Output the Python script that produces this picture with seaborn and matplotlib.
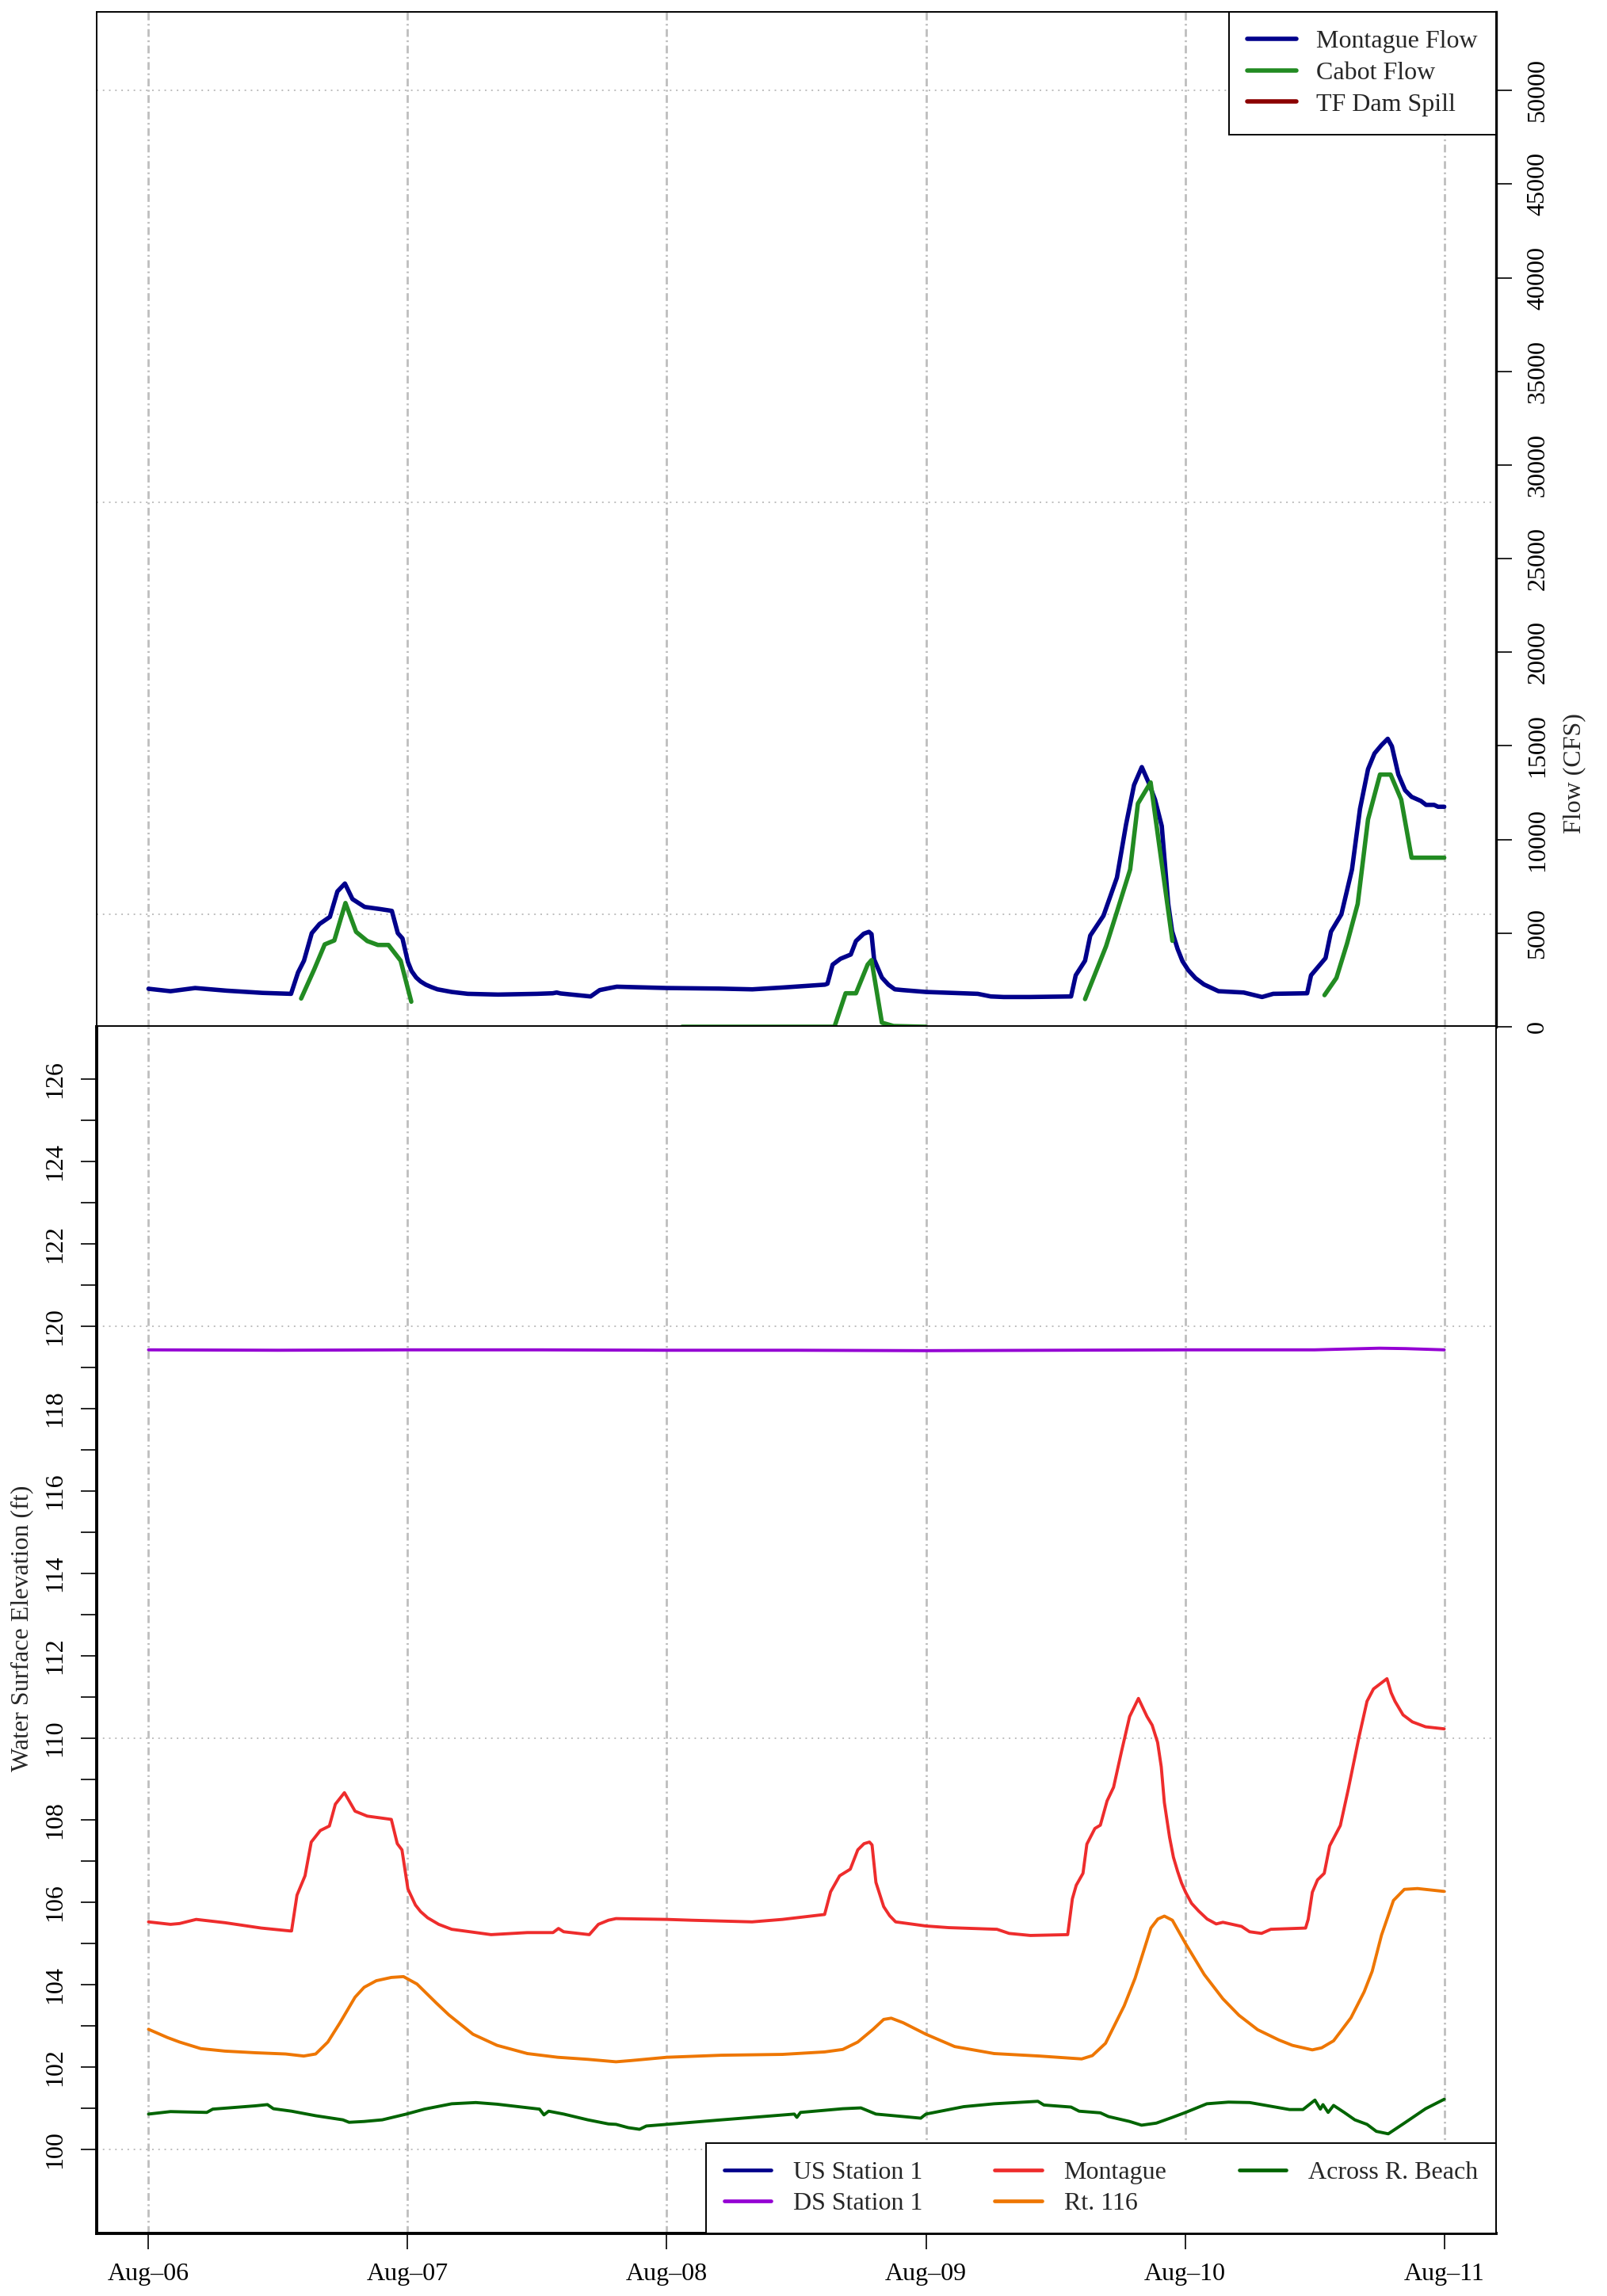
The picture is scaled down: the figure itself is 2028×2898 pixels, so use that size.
import numpy as np
import pandas as pd
import matplotlib
matplotlib.use("Agg")
import matplotlib.pyplot as plt
import seaborn as sns
from matplotlib.lines import Line2D

# ---------------- data (time in days since Aug-06 00:00) ----------------
day_ticks = [0, 1, 2, 3, 4, 5]
day_labels = ["Aug\u201306", "Aug\u201307", "Aug\u201308", "Aug\u201309", "Aug\u201310", "Aug\u201311"]

flow_ticks = [0, 5000, 10000, 15000, 20000, 25000, 30000, 35000, 40000, 45000, 50000]
flow_grid = [6000, 28000, 50000]
wse_ticks = list(range(100, 127))
wse_grid = [100, 110, 120]

montague_flow_t = [0.000, 0.085, 0.180, 0.300, 0.440, 0.550, 0.577, 0.600, 0.630, 0.660, 0.700, 0.729,
                   0.758, 0.787, 0.834, 0.892, 0.939, 0.962, 0.980, 1.001, 1.015, 1.033, 1.050, 1.070,
                   1.090, 1.115, 1.170, 1.232, 1.349, 1.500, 1.560, 1.575, 1.590, 1.706, 1.741, 1.780,
                   1.807, 2.000, 2.200, 2.330, 2.450, 2.610, 2.620, 2.640, 2.670, 2.710, 2.730, 2.760,
                   2.780, 2.790, 2.800, 2.830, 2.855, 2.880, 2.910, 3.000, 3.200, 3.250, 3.300, 3.400,
                   3.560, 3.578, 3.614, 3.634, 3.685, 3.737, 3.772, 3.803, 3.833, 3.859, 3.884, 3.910,
                   3.935, 3.950, 3.971, 3.990, 4.012, 4.040, 4.073, 4.129, 4.226, 4.297, 4.340, 4.471,
                   4.486, 4.542, 4.563, 4.603, 4.644, 4.675, 4.706, 4.731, 4.757, 4.782, 4.798, 4.823,
                   4.849, 4.874, 4.910, 4.930, 4.961, 4.976, 5.000]
montague_flow_v = [2030, 1900, 2070, 1930, 1810, 1760, 2900, 3530, 5000, 5490, 5870, 7230,
                   7650, 6820, 6400, 6290, 6190, 5000, 4720, 3460, 2980, 2630, 2420, 2250,
                   2130, 2000, 1860, 1760, 1720, 1760, 1790, 1830, 1780, 1620, 1960, 2070,
                   2140, 2070, 2040, 2000, 2100, 2250, 2300, 3320, 3630, 3860, 4580, 4970,
                   5070, 4950, 3600, 2630, 2250, 2000, 1960, 1860, 1760, 1620, 1590, 1590,
                   1620, 2750, 3530, 4870, 5930, 7970, 10790, 12910, 13870, 13050, 12130, 10720,
                   6560, 5100, 4160, 3500, 3030, 2600, 2260, 1900, 1830, 1590, 1760, 1790,
                   2750, 3670, 5080, 6000, 8400, 11640, 13760, 14600, 15030, 15380, 14980, 13470,
                   12630, 12280, 12060, 11850, 11850, 11750, 11750]

# Cabot flow: NaN marks gaps in the record
cabot_flow_t = [0.589, 0.639, 0.680, 0.717, 0.760, 0.801, 0.844, 0.885, 0.926, 0.973, 1.014, np.nan,
                2.059, 2.647, 2.690, 2.730, 2.775, 2.790, 2.830, 2.875, 3.000, np.nan,
                3.614, 3.695, 3.737, 3.788, 3.818, 3.867, 3.951, np.nan,
                4.538, 4.584, 4.625, 4.666, 4.706, 4.752, 4.793, 4.834, 4.874, 5.000]
cabot_flow_v = [1510, 3050, 4400, 4610, 6610, 5070, 4580, 4370, 4370, 3530, 1340, np.nan,
                0, 0, 1790, 1790, 3320, 3560, 220, 40, 0, np.nan,
                1480, 4300, 6140, 8400, 11920, 13050, 4590, np.nan,
                1690, 2610, 4450, 6560, 11080, 13470, 13470, 12130, 9030, 9030]

tf_spill_t = []
tf_spill_v = []

us_station_t = []
us_station_v = []

ds_station_t = [0.0, 0.5, 1.0, 1.5, 2.0, 2.5, 3.0, 3.5, 4.0, 4.5, 4.75, 4.85, 5.0]
ds_station_v = [119.43, 119.42, 119.43, 119.43, 119.42, 119.42, 119.41, 119.42, 119.43, 119.43, 119.47, 119.46, 119.43]

montague_wse_t = [0.000, 0.085, 0.120, 0.184, 0.295, 0.435, 0.546, 0.552, 0.573, 0.604, 0.628, 0.663,
                  0.698, 0.721, 0.756, 0.797, 0.844, 0.937, 0.960, 0.978, 1.001, 1.030, 1.050, 1.077,
                  1.120, 1.170, 1.322, 1.462, 1.561, 1.582, 1.602, 1.701, 1.736, 1.775, 1.804, 2.000,
                  2.096, 2.329, 2.446, 2.609, 2.632, 2.667, 2.708, 2.737, 2.761, 2.782, 2.792, 2.807,
                  2.837, 2.860, 2.883, 3.000, 3.088, 3.274, 3.321, 3.403, 3.547, 3.565, 3.580, 3.606,
                  3.621, 3.652, 3.673, 3.699, 3.724, 3.755, 3.786, 3.820, 3.853, 3.873, 3.894, 3.908,
                  3.920, 3.940, 3.955, 3.971, 3.986, 4.002, 4.025, 4.053, 4.085, 4.120, 4.146, 4.218,
                  4.249, 4.295, 4.331, 4.465, 4.475, 4.491, 4.511, 4.537, 4.558, 4.599, 4.630, 4.671,
                  4.702, 4.727, 4.779, 4.795, 4.810, 4.841, 4.877, 4.928, 5.000]
montague_wse_v = [105.53, 105.47, 105.49, 105.59, 105.51, 105.38, 105.31, 105.31, 106.18, 106.65, 107.47, 107.75,
                  107.86, 108.39, 108.67, 108.22, 108.10, 108.02, 107.43, 107.28, 106.33, 105.94, 105.78, 105.63,
                  105.47, 105.35, 105.22, 105.27, 105.27, 105.37, 105.29, 105.22, 105.47, 105.57, 105.61, 105.59,
                  105.57, 105.53, 105.59, 105.71, 106.26, 106.65, 106.81, 107.28, 107.43, 107.47, 107.40, 106.49,
                  105.90, 105.68, 105.53, 105.43, 105.39, 105.35, 105.25, 105.20, 105.22, 106.09, 106.42, 106.71,
                  107.42, 107.80, 107.88, 108.47, 108.80, 109.68, 110.52, 110.96, 110.52, 110.31, 109.89, 109.30,
                  108.43, 107.59, 107.10, 106.76, 106.48, 106.25, 105.98, 105.79, 105.60, 105.48, 105.52, 105.42,
                  105.29, 105.25, 105.35, 105.38, 105.59, 106.25, 106.55, 106.71, 107.38, 107.87, 108.76, 110.02,
                  110.89, 111.19, 111.44, 111.10, 110.89, 110.56, 110.39, 110.27, 110.22]

rt116_t = [0.000, 0.073, 0.120, 0.202, 0.295, 0.412, 0.529, 0.599, 0.645, 0.692, 0.739, 0.797,
           0.832, 0.879, 0.937, 0.984, 1.036, 1.112, 1.159, 1.252, 1.345, 1.462, 1.579, 1.695,
           1.804, 1.862, 2.000, 2.212, 2.446, 2.609, 2.679, 2.737, 2.796, 2.837, 2.866, 2.912,
           3.000, 3.111, 3.263, 3.438, 3.601, 3.642, 3.693, 3.765, 3.807, 3.868, 3.895, 3.920, 3.951,
           4.002, 4.074, 4.146, 4.208, 4.280, 4.362, 4.414, 4.491, 4.527, 4.573, 4.640, 4.691,
           4.722, 4.758, 4.804, 4.846, 4.897, 5.000]
rt116_v = [102.92, 102.72, 102.61, 102.45, 102.39, 102.35, 102.32, 102.27, 102.32, 102.61, 103.08, 103.70,
           103.94, 104.10, 104.18, 104.20, 104.02, 103.55, 103.27, 102.80, 102.53, 102.33, 102.24, 102.19,
           102.13, 102.16, 102.24, 102.29, 102.31, 102.37, 102.43, 102.61, 102.92, 103.16, 103.19, 103.08,
           102.80, 102.50, 102.33, 102.27, 102.20, 102.28, 102.58, 103.49, 104.16, 105.38, 105.60, 105.67, 105.57,
           105.00, 104.25, 103.66, 103.26, 102.91, 102.66, 102.53, 102.42, 102.47, 102.64, 103.20, 103.83,
           104.33, 105.21, 106.05, 106.32, 106.34, 106.27]

beach_t = [0.000, 0.085, 0.225, 0.248, 0.412, 0.459, 0.482, 0.552, 0.645, 0.750, 0.774, 0.832,
           0.902, 0.995, 1.065, 1.170, 1.263, 1.345, 1.509, 1.526, 1.544, 1.602, 1.695, 1.775,
           1.804, 1.851, 1.895, 1.921, 2.000, 2.212, 2.492, 2.502, 2.516, 2.679, 2.749, 2.807,
           2.912, 2.980, 3.000, 3.146, 3.263, 3.432, 3.455, 3.560, 3.591, 3.673, 3.704, 3.786,
           3.832, 3.889, 3.951, 4.002, 4.084, 4.167, 4.249, 4.403, 4.455, 4.501, 4.522, 4.532,
           4.552, 4.573, 4.614, 4.655, 4.702, 4.738, 4.784, 4.846, 4.928, 5.000]
beach_v = [100.86, 100.92, 100.90, 100.98, 101.06, 101.09, 100.99, 100.93, 100.82, 100.72, 100.66, 100.68,
           100.72, 100.86, 100.98, 101.11, 101.14, 101.10, 100.98, 100.84, 100.93, 100.86, 100.72, 100.62,
           100.61, 100.53, 100.49, 100.57, 100.61, 100.72, 100.86, 100.78, 100.90, 100.99, 101.01, 100.86,
           100.80, 100.76, 100.86, 101.04, 101.11, 101.17, 101.08, 101.03, 100.93, 100.89, 100.80, 100.68,
           100.59, 100.64, 100.78, 100.90, 101.11, 101.15, 101.14, 100.97, 100.97, 101.20, 100.98, 101.09,
           100.90, 101.07, 100.90, 100.72, 100.61, 100.44, 100.38, 100.64, 100.99, 101.22]

# ---------------- styling ----------------
sns.set_theme(style="white")
plt.rcParams['font.family'] = ['Liberation Serif', 'DejaVu Serif']
plt.rcParams['axes.edgecolor'] = 'black'
plt.rcParams['xtick.color'] = 'black'
plt.rcParams['ytick.color'] = 'black'

FS = 23
C_NAVY = "#00008B"
C_FOREST = "#228B22"
C_DARKRED = "#8B0000"
C_VIOLET = "#9400D3"
C_RED = "#EE2C2C"
C_ORANGE = "#EE7600"
C_DKGREEN = "#006400"
GRID_C = "#BEBEBE"
LW_TOP = 4.0
LW_BOT = 2.8

W, H = 2028, 2898
fig = plt.figure(figsize=(W / 100, H / 100), dpi=100)
fig.patch.set_facecolor("white")


def rect(l, t, r, b):
    return [l / W, 1 - b / H, (r - l) / W, (b - t) / H]


ax1 = fig.add_axes(rect(122, 15, 1888, 1296))
ax2 = fig.add_axes(rect(122, 1296, 1888, 2819))

for ax in (ax1, ax2):
    ax.set_xlim(-0.2, 5.2)
    ax.set_facecolor("white")
    for d in day_ticks:
        ax.axvline(d, color=GRID_C, lw=2.0, linestyle=(0, (3.5, 1.6, 0.8, 1.6)), zorder=0)

ax1.set_ylim(0, 54200)
ax2.set_ylim(97.96, 127.28)

for g in flow_grid:
    ax1.axhline(g, color=GRID_C, lw=1.4, linestyle=(0, (1, 3)), zorder=0)
for g in wse_grid:
    ax2.axhline(g, color=GRID_C, lw=1.4, linestyle=(0, (1, 3)), zorder=0)

# ---------------- top panel: flows ----------------
mf = pd.DataFrame({"t": montague_flow_t, "v": montague_flow_v})
sns.lineplot(data=mf, x="t", y="v", ax=ax1, color=C_NAVY, lw=LW_TOP, estimator=None, sort=False,
             legend=False, zorder=3)

cf = pd.DataFrame({"t": cabot_flow_t, "v": cabot_flow_v})
cf["seg"] = cf["v"].isna().cumsum()
cf = cf.dropna()
sns.lineplot(data=cf, x="t", y="v", units="seg", ax=ax1, color=C_FOREST, lw=LW_TOP, estimator=None,
             sort=False, legend=False, zorder=3)

if len(tf_spill_t):
    sns.lineplot(x=tf_spill_t, y=tf_spill_v, ax=ax1, color=C_DARKRED, lw=LW_TOP, legend=False)

# ---------------- bottom panel: WSE ----------------
wse_series = [
    ("US Station 1", us_station_t, us_station_v, C_NAVY),
    ("DS Station 1", ds_station_t, ds_station_v, C_VIOLET),
    ("Montague", montague_wse_t, montague_wse_v, C_RED),
    ("Rt. 116", rt116_t, rt116_v, C_ORANGE),
    ("Across R. Beach", beach_t, beach_v, C_DKGREEN),
]
for name, t, v, c in wse_series:
    if len(t):
        df = pd.DataFrame({"t": t, "v": v})
        sns.lineplot(data=df, x="t", y="v", ax=ax2, color=c, lw=LW_BOT, estimator=None, sort=False,
                     legend=False, zorder=3)

# ---------------- axes / ticks ----------------
ax1.set_xlabel("")
ax1.set_ylabel("")
ax2.set_xlabel("")
ax2.set_ylabel("")

ax1.set_xticks([])
ax1.yaxis.tick_right()
ax1.set_yticks(flow_ticks)
ax1.set_yticklabels([str(v) for v in flow_ticks])
ax1.tick_params(axis="y", which="both", direction="out", length=14.5, width=1.2, pad=13,
                labelsize=FS, right=True, left=False, labelright=True, labelleft=False)
for lab in ax1.get_yticklabels():
    lab.set_rotation(90)
    lab.set_va("center")

ax2.set_xticks(day_ticks)
ax2.set_xticklabels(day_labels)
ax2.set_yticks(wse_ticks)
ax2.set_yticklabels([str(v) if v % 2 == 0 else "" for v in wse_ticks])
ax2.tick_params(axis="x", direction="out", length=14.5, width=1.2, pad=12, labelsize=FS, bottom=True)
ax2.tick_params(axis="y", direction="out", length=14.5, width=1.2, pad=13, labelsize=FS, left=True)
for lab in ax2.get_yticklabels():
    lab.set_rotation(90)
    lab.set_va("center")

# spines
for ax in (ax1, ax2):
    for s in ax.spines.values():
        s.set_color("black")
        s.set_visible(True)
ax1.spines["top"].set_linewidth(1.4)
ax1.spines["left"].set_linewidth(1.4)
ax1.spines["right"].set_linewidth(2.4)
ax1.spines["bottom"].set_linewidth(2.8)
ax1.spines["bottom"].set_zorder(5)
ax2.spines["top"].set_visible(False)
ax2.spines["left"].set_linewidth(2.8)
ax2.spines["bottom"].set_linewidth(2.8)
ax2.spines["right"].set_linewidth(1.4)

# labels
fig.text(1987 / W, 1 - 976 / H, "Flow (CFS)", rotation=90, ha="center", va="center", fontsize=FS)
fig.text(28 / W, 1 - 2055 / H, "Water Surface Elevation (ft)", rotation=90, ha="center", va="center",
         fontsize=FS)

# ---------------- legends ----------------
h1 = [Line2D([], [], color=C_NAVY, lw=LW_TOP, solid_capstyle="round"),
      Line2D([], [], color=C_FOREST, lw=LW_TOP, solid_capstyle="round"),
      Line2D([], [], color=C_DARKRED, lw=LW_TOP, solid_capstyle="round")]
leg1 = ax1.legend(h1, ["Montague Flow", "Cabot Flow", "TF Dam Spill"], loc="upper right",
                  bbox_to_anchor=(1, 1), borderaxespad=0, frameon=True, fancybox=False,
                  edgecolor="black", framealpha=1, fontsize=FS, handlelength=1.95,
                  handletextpad=0.8, labelspacing=0.32, borderpad=0.72)
leg1.get_frame().set_linewidth(1.4)
leg1.set_zorder(10)

h2 = [Line2D([], [], color=c, lw=LW_BOT + 0.6, solid_capstyle="round") for _, _, _, c in wse_series]
leg2 = ax2.legend(h2, [n for n, _, _, _ in wse_series], loc="lower right", bbox_to_anchor=(1, 0),
                  borderaxespad=0, ncol=3, frameon=True, fancybox=False, edgecolor="black",
                  framealpha=1, fontsize=FS, handlelength=1.85, handletextpad=0.88,
                  columnspacing=2.85, labelspacing=0.3, borderpad=0.72)
leg2.get_frame().set_linewidth(1.4)
leg2.set_zorder(10)

fig.savefig("out.png", dpi=100, facecolor="white")
